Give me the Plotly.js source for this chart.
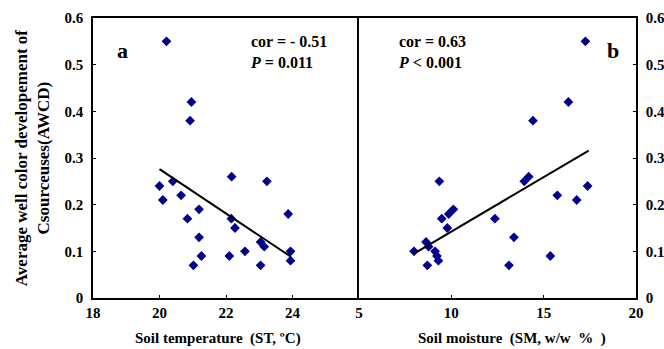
<!DOCTYPE html>
<html>
<head>
<meta charset="utf-8">
<script src="https://cdn.plot.ly/plotly-3.0.1.min.js"></script>
<style>html,body{margin:0;padding:0;background:#fff;}#chart{width:664px;height:349px;}</style>
</head>
<body>
<div id="chart"></div>
<script>
// Panel a: soil temperature vs AWCD
const stValues = [20.21, 20.96, 20.92, 20.0, 20.1, 20.4, 20.65, 20.84, 21.19, 21.19, 21.26, 21.02,
  22.17, 22.16, 22.27, 22.1, 22.57, 23.23, 23.04, 23.15, 23.04, 23.87, 23.94, 23.94];
const awcdA = [0.55, 0.42, 0.38, 0.24, 0.21, 0.25, 0.22, 0.17, 0.19, 0.13, 0.09, 0.07,
  0.26, 0.17, 0.15, 0.09, 0.10, 0.25, 0.12, 0.11, 0.07, 0.18, 0.10, 0.08];
const fitAx = [20.0, 23.96];
const fitAy = [0.276, 0.088];

// Panel b: soil moisture vs AWCD
const smValues = [17.26, 16.34, 14.42, 7.98, 8.63, 8.77, 8.70, 9.12, 9.22, 9.30, 9.35, 9.48,
  9.78, 9.86, 10.11, 12.36, 13.12, 13.39, 13.95, 14.19, 15.36, 15.74, 16.79, 17.38];
const awcdB = [0.55, 0.42, 0.38, 0.10, 0.12, 0.11, 0.07, 0.10, 0.09, 0.08, 0.25, 0.17,
  0.15, 0.18, 0.19, 0.17, 0.07, 0.13, 0.25, 0.26, 0.09, 0.22, 0.21, 0.24];
const fitBx = [7.98, 17.44];
const fitBy = [0.095, 0.316];

const yTicks = [0, 0.1, 0.2, 0.3, 0.4, 0.5, 0.6];
const yTickText = ["0", "0.1", "0.2", "0.3", "0.4", "0.5", "0.6"];
const xTicksA = [18, 20, 22, 24];
const xTickTextA = ["18", "20", "22", "24"];
const xTicksB = [5, 10, 15, 20];
const xTickTextB = ["5", "10", "15", "20"];

const FONT = "Liberation Serif";
const bold = arr => arr.map(t => "<b>" + t + "</b>");
const mk = {symbol: "diamond", size: 7.5, color: "#00008B", line: {width: 0}};

const data = [
  {x: stValues, y: awcdA, type: "scatter", mode: "markers", marker: mk, xaxis: "x", yaxis: "y", hoverinfo: "none"},
  {x: fitAx, y: fitAy, type: "scatter", mode: "lines", line: {color: "#000", width: 2}, xaxis: "x", yaxis: "y"},
  {x: smValues, y: awcdB, type: "scatter", mode: "markers", marker: mk, xaxis: "x2", yaxis: "y2", hoverinfo: "none"},
  {x: fitBx, y: fitBy, type: "scatter", mode: "lines", line: {color: "#000", width: 2}, xaxis: "x2", yaxis: "y2"}
];

const axBase = {
  showgrid: false, zeroline: false, showline: true, linecolor: "#000", linewidth: 1.8,
  ticks: "inside", ticklen: 3, tickcolor: "#000", tickwidth: 1,
  tickfont: {family: FONT, size: 15, color: "#000"}
};
const split = (359 - 93) / 543;

const layout = {
  width: 664, height: 349,
  margin: {l: 93, r: 28, t: 18, b: 51},
  showlegend: false,
  paper_bgcolor: "#fff", plot_bgcolor: "#fff",
  font: {family: FONT, color: "#000"},
  xaxis: Object.assign({}, axBase, {domain: [0, split], range: [18, 26], tickvals: xTicksA, ticktext: bold(xTickTextA), mirror: true, anchor: "y"}),
  yaxis: Object.assign({}, axBase, {range: [0, 0.6], tickvals: yTicks, ticktext: bold(yTickText), mirror: false, anchor: "x", ticklabelstandoff: 5}),
  xaxis2: Object.assign({}, axBase, {domain: [split, 1], range: [5, 20], tickvals: xTicksB, ticktext: bold(xTickTextB), mirror: true, anchor: "y2"}),
  yaxis2: Object.assign({}, axBase, {range: [0, 0.6], tickvals: yTicks, ticktext: bold(yTickText), side: "right", mirror: true, anchor: "x2", ticklabelstandoff: 5}),
  annotations: [
    {xref: "paper", yref: "paper", x: 0.04, y: 0.885, text: "<b>a</b>", showarrow: false, font: {family: FONT, size: 22}, xanchor: "left", yanchor: "middle"},
    {xref: "x", yref: "y", x: 22.67, y: 0.528, text: "<b>cor = - 0.51</b><br><b><i>P</i> = 0.011</b>", showarrow: false, align: "left", xanchor: "left", yanchor: "middle", font: {family: FONT, size: 16}},
    {xref: "x2", yref: "y2", x: 7.02, y: 0.528, text: "<b>cor = 0.63</b><br><b><i>P</i> &lt; 0.001</b>", showarrow: false, align: "left", xanchor: "left", yanchor: "middle", font: {family: FONT, size: 16}},
    {xref: "x2", yref: "paper", x: 18.3, y: 0.885, text: "<b>b</b>", showarrow: false, font: {family: FONT, size: 22}, xanchor: "left", yanchor: "middle"},
    {xref: "x", yref: "paper", x: 21.75, y: -0.145, text: "<b>Soil temperature  (ST, ºC)</b>", showarrow: false, yanchor: "middle", font: {family: FONT, size: 15}},
    {xref: "x2", yref: "paper", x: 13.3, y: -0.145, text: "<b>Soil moisture  (SM, w/w  %  )</b>", showarrow: false, yanchor: "middle", font: {family: FONT, size: 15}},
    {xref: "paper", yref: "paper", x: -0.112, y: 0.5, text: "<b>Average well color developement of</b><br><b>Csourceuses(AWCD)</b>", showarrow: false, textangle: -90, xanchor: "center", yanchor: "middle", font: {family: FONT, size: 17}}
  ]
};

Plotly.newPlot("chart", data, layout, {staticPlot: true, displayModeBar: false});
</script>
</body>
</html>
